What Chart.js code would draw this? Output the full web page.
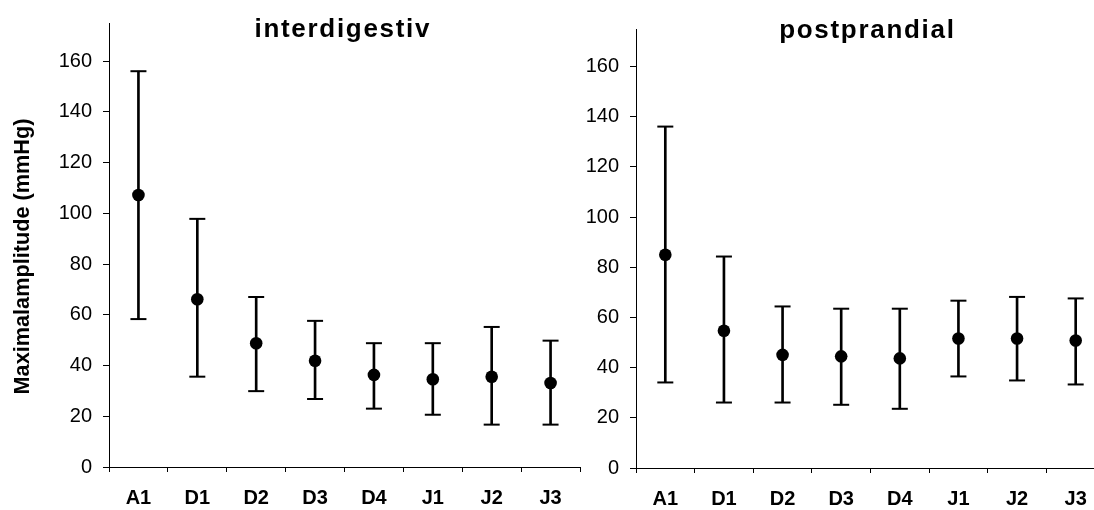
<!DOCTYPE html>
<html>
<head>
<meta charset="utf-8">
<script src="https://cdn.jsdelivr.net/npm/chart.js@4.4.1/dist/chart.umd.min.js"></script>
<style>
  html, body { margin: 0; padding: 0; background: #fff; overflow: hidden; width: 1094px; height: 510px; }
  .box { position: absolute; top: 0; height: 510px; }
  #b1 { left: 0; width: 590px; }
  #b2 { left: 540px; width: 650px; }
</style>
</head>
<body>
<div class="box" id="b1"><canvas id="c1"></canvas></div>
<div class="box" id="b2"><canvas id="c2"></canvas></div>
<script>
const categories = ['A1', 'D1', 'D2', 'D3', 'D4', 'J1', 'J2', 'J3'];
const yTicks = [0, 20, 40, 60, 80, 100, 120, 140, 160];

const interMean  = [107.2, 66.1, 48.8, 41.9, 36.3, 34.6, 35.6, 33.1];
const interUpper = [156.0, 97.8, 67.0, 57.6, 48.8, 48.8, 55.2, 49.8];
const interLower = [58.3, 35.6, 29.9, 26.8, 23.0, 20.6, 16.7, 16.7];

const postMean  = [85.0, 54.7, 45.1, 44.5, 43.7, 51.6, 51.6, 50.8];
const postUpper = [136.1, 84.3, 64.4, 63.5, 63.5, 66.7, 68.2, 67.6];
const postLower = [34.1, 26.1, 26.1, 25.2, 23.6, 36.5, 34.9, 33.3];

Chart.defaults.font.family = '"Liberation Sans", Arial, sans-serif';
Chart.defaults.color = '#000';

function titlePlugin(text, cx, baseline) {
  return {
    id: 'panelTitle',
    afterLayout(chart) {
      const s = chart.scales.y;
      if (s && !s._shifted) {
        const orig = s.drawTitle.bind(s);
        s.drawTitle = function () {
          const c = this.ctx;
          c.save();
          c.translate(0, 11.5);
          orig();
          c.restore();
        };
        s._shifted = true;
      }
    },
    afterDraw(chart) {
      const ctx = chart.ctx;
      ctx.save();
      ctx.font = 'bold 26px "Liberation Sans", Arial, sans-serif';
      ctx.fillStyle = '#000';
      ctx.textAlign = 'center';
      ctx.textBaseline = 'alphabetic';
      try { ctx.letterSpacing = '1.7px'; } catch (e) {}
      ctx.fillText(text, cx + 0.85, baseline);
      ctx.restore();
    }
  };
}

function makeChart(id, mean, upper, lower, opts) {
  const ctx = document.getElementById(id);
  const black = '#000';
  return new Chart(ctx, {
    type: 'bar',
    data: {
      labels: categories,
      datasets: [
        {
          type: 'line', data: mean, showLine: false, pointStyle: 'circle',
          pointRadius: 6.3, pointBackgroundColor: black, pointBorderWidth: 0,
          pointBorderColor: black, order: 0
        },
        {
          type: 'line', data: upper, showLine: false, pointStyle: 'line',
          pointRadius: 8, pointBorderWidth: 2, pointBorderColor: black, order: 1
        },
        {
          type: 'line', data: lower, showLine: false, pointStyle: 'line',
          pointRadius: 8, pointBorderWidth: 2, pointBorderColor: black, order: 1
        },
        {
          type: 'bar', data: categories.map((c, i) => [lower[i], upper[i]]),
          backgroundColor: black, borderWidth: 0, barThickness: 2, order: 2
        }
      ]
    },
    options: {
      responsive: true,
      maintainAspectRatio: false,
      animation: false,
      events: [],
      layout: { padding: opts.padding },
      plugins: { legend: { display: false }, tooltip: { enabled: false }, title: { display: false } },
      scales: {
        x: {
          offset: true,
          grid: { offset: true, drawOnChartArea: false, drawTicks: true, tickLength: 5, color: black, lineWidth: 1 },
          border: { display: true, color: black, width: 1 },
          ticks: { font: { size: 20, weight: 'bold' }, padding: 14, color: black, maxRotation: 0 },
          afterFit(scale) { scale.height = opts.xHeight; }
        },
        y: {
          min: 0, max: 175,
          afterBuildTicks(scale) { scale.ticks = yTicks.map(v => ({ value: v })); },
          grid: { drawOnChartArea: false, drawTicks: true, tickLength: 6, color: black, lineWidth: 1 },
          border: { display: true, color: black, width: 1 },
          ticks: { font: { size: 20 }, padding: 11, color: black, includeBounds: false },
          title: opts.yTitle ? {
            display: true, text: 'Maximalamplitude (mmHg)',
            font: { size: 21.7, weight: 'bold' }, color: black, padding: { top: 10, bottom: 0 }
          } : { display: false },
          afterFit(scale) { scale.width = opts.yWidth; }
        }
      }
    },
    plugins: [titlePlugin(opts.title, opts.titleX, opts.titleBaseline)]
  });
}

makeChart('c1', interMean, interUpper, interLower, {
  padding: { left: 0, right: 8, top: 23, bottom: 0 },
  xHeight: 43, yWidth: 109, yTitle: true,
  title: 'interdigestiv', titleX: 342, titleBaseline: 37
});
makeChart('c2', postMean, postUpper, postLower, {
  padding: { left: 0, right: 85, top: 29, bottom: 0 },
  xHeight: 42, yWidth: 96, yTitle: false,
  title: 'postprandial', titleX: 326.5, titleBaseline: 37.5
});
</script>
</body>
</html>
